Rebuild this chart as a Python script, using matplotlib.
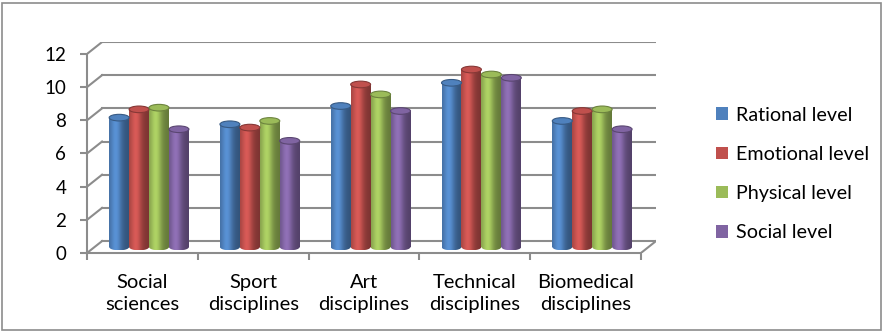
import numpy as np
import matplotlib.pyplot as plt
from matplotlib.patches import Ellipse, Rectangle, Patch
from matplotlib.colors import to_rgb

plt.rcParams['font.family'] = ['Lato', 'DejaVu Sans']

categories = ["Social\nsciences", "Sport\ndisciplines", "Art\ndisciplines",
              "Technical\ndisciplines", "Biomedical\ndisciplines"]
series = ["Rational level", "Emotional level", "Physical level", "Social level"]
rational = [7.8, 7.4, 8.5, 9.9, 7.6]
emotional = [8.3, 7.2, 9.8, 10.7, 8.2]
physical = [8.4, 7.6, 9.2, 10.4, 8.3]
social = [7.1, 6.4, 8.2, 10.2, 7.1]
colors = ["#4F81BD", "#C0504D", "#9BBB59", "#8064A2"]
values = [rational, emotional, physical, social]

# pseudo 3d depth offsets (data units)
dx, dy = 0.136, 0.72
grid_c = "#8c8c8c"

fig = plt.figure(figsize=(8.84, 3.32), dpi=100)
fig.patches.append(Rectangle((2 / 884, 2 / 332), 879 / 884, 327 / 332,
                             transform=fig.transFigure, fill=False,
                             edgecolor="#8c8c8c", lw=1.2))

ax = fig.add_axes([87 / 884, 79 / 332, 569 / 884, 211 / 332])
ax.set_xlim(0, 5 + dx)
ax.set_ylim(0, 12 + dy)

# back wall + left wall gridlines
for v in range(0, 13, 2):
    ax.plot([dx, 5 + dx], [v + dy, v + dy], color=grid_c, lw=1.5, zorder=1)
    ax.plot([0, dx], [v, v + dy], color=grid_c, lw=1.5, zorder=1)
ax.plot([5, 5 + dx], [0, dy], color=grid_c, lw=1.5, zorder=1)

for s in ["top", "right"]:
    ax.spines[s].set_visible(False)
for s in ["left", "bottom"]:
    ax.spines[s].set_color(grid_c)
    ax.spines[s].set_linewidth(1.5)
ax.spines["left"].set_bounds(0, 12)
ax.spines["bottom"].set_bounds(0, 5)

ax.set_yticks(range(0, 13, 2))
ax.tick_params(axis="y", length=5, width=1.5, color=grid_c, labelsize=13.5, pad=10)
ax.set_xticks(range(6))
ax.set_xticklabels([])
ax.set_xticks(np.arange(5) + 0.5, categories, minor=True)
ax.tick_params(axis="x", which="major", length=5, width=1.5, color=grid_c)
ax.tick_params(axis="x", which="minor", length=0, labelsize=14.5, pad=15)
for t in ax.get_xticklabels(minor=True):
    t.set_linespacing(1.4)

# cylinders
w = 0.18
base = dy / 2
eh = 0.4
t = np.linspace(0, 1, 64)
shade = 0.8 + 0.38 * np.exp(-((t - 0.35) / 0.28) ** 2) - 0.15 * t
for j, (vals, c) in enumerate(zip(values, colors)):
    rgb = np.array(to_rgb(c))
    grad = np.clip(rgb[None, :] * shade[:, None], 0, 1)[None, :, :]
    for i, v in enumerate(vals):
        x0 = i + 0.2 + j * w
        top = v + base
        body = Rectangle((x0, base), w, v, transform=ax.transData)
        im = ax.imshow(grad, extent=[x0, x0 + w, base - eh / 2, top],
                       aspect="auto", zorder=3, interpolation="bilinear")
        im.set_clip_path(body)
        bot = Ellipse((x0 + w / 2, base), w, eh, transform=ax.transData)
        im2 = ax.imshow(grad, extent=[x0, x0 + w, base - eh / 2, top],
                        aspect="auto", zorder=3, interpolation="bilinear")
        im2.set_clip_path(bot)
        ax.add_patch(Ellipse((x0 + w / 2, top), w, eh,
                             facecolor=rgb,
                             edgecolor=rgb * 0.7, lw=0.8, zorder=4))

handles = [Patch(facecolor=c, edgecolor="none") for c in colors]
fig.legend(handles, series, loc="center left",
           bbox_to_anchor=(698 / 884, 1 - 174 / 332), frameon=False,
           fontsize=14.2, handlelength=0.6, handleheight=0.6,
           handletextpad=0.45, labelspacing=1.13)

ax.set_xlim(0, 5 + dx)
ax.set_ylim(0, 12 + dy)
fig.savefig("out.png", dpi=100)
